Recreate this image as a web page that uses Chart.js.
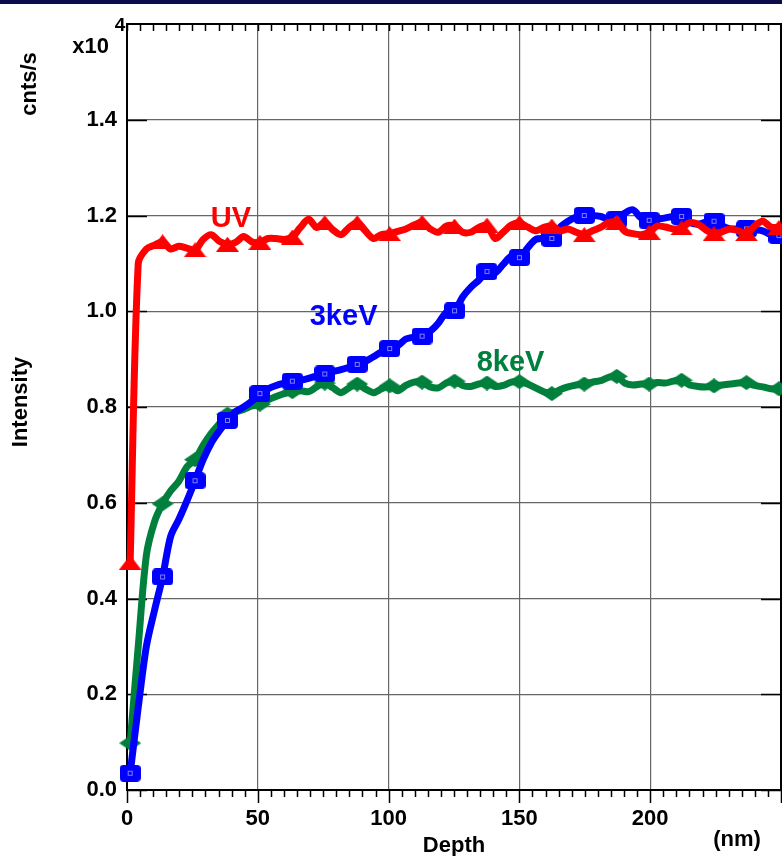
<!DOCTYPE html>
<html>
<head>
<meta charset="utf-8">
<script src="https://cdn.jsdelivr.net/npm/chart.js@4/dist/chart.umd.min.js"></script>
<style>
  html, body { margin: 0; padding: 0; background: #fff; }
  canvas { display: block; }
</style>
</head>
<body>
<canvas id="chart" width="782" height="856"></canvas>
<script>
// depth (nm) of each sample, shared by the three profiles
const depth = [
    1.2, 4.3, 7.4, 10.5, 13.6, 16.7, 19.8, 22.9, 26.0, 29.1,
    32.2, 35.3, 38.4, 41.5, 44.6, 47.7, 50.8, 53.9, 57.0, 60.1,
    63.2, 66.3, 69.4, 72.5, 75.6, 78.7, 81.8, 84.9, 88.0, 91.1,
    94.2, 97.3, 100.4, 103.5, 106.6, 109.7, 112.8, 115.9, 119.0, 122.1,
    125.2, 128.3, 131.4, 134.5, 137.6, 140.7, 143.8, 146.9, 150.0, 153.1,
    156.2, 159.3, 162.4, 165.5, 168.6, 171.7, 174.8, 177.9, 181.0, 184.1,
    187.2, 190.3, 193.4, 196.5, 199.6, 202.7, 205.8, 208.9, 212.0, 215.1,
    218.2, 221.3, 224.4, 227.5, 230.6, 233.7, 236.8, 239.9, 243.0, 246.1,
    249.2
]

// intensity, x10^4 cnts/s
const uv = [
    0.475, 1.10, 1.13, 1.138, 1.145, 1.130, 1.136, 1.132, 1.128, 1.150,
    1.160, 1.146, 1.140, 1.144, 1.156, 1.145, 1.144, 1.152, 1.152, 1.150,
    1.155, 1.175, 1.192, 1.175, 1.185, 1.170, 1.160, 1.175, 1.185, 1.168,
    1.152, 1.160, 1.162, 1.167, 1.172, 1.180, 1.186, 1.172, 1.165, 1.178,
    1.178, 1.165, 1.165, 1.175, 1.180, 1.152, 1.165, 1.180, 1.185, 1.176,
    1.168, 1.175, 1.178, 1.168, 1.172, 1.165, 1.160, 1.168, 1.175, 1.185,
    1.186, 1.167, 1.162, 1.160, 1.165, 1.178, 1.176, 1.172, 1.174, 1.185,
    1.182, 1.170, 1.162, 1.166, 1.172, 1.168, 1.162, 1.178, 1.188, 1.176,
    1.175
]

const kev3 = [
    0.035, 0.173, 0.30, 0.375, 0.445, 0.53, 0.565, 0.604, 0.646, 0.69,
    0.725, 0.75, 0.772, 0.79, 0.80, 0.812, 0.828, 0.838, 0.845, 0.850,
    0.854, 0.856, 0.860, 0.865, 0.869, 0.874, 0.878, 0.883, 0.889, 0.895,
    0.905, 0.915, 0.922, 0.928, 0.942, 0.946, 0.948, 0.958, 0.975, 0.998,
    1.001, 1.030, 1.050, 1.065, 1.083, 1.080, 1.098, 1.115, 1.112, 1.132,
    1.150, 1.152, 1.152, 1.175, 1.188, 1.197, 1.200, 1.200, 1.198, 1.192,
    1.192, 1.205, 1.212, 1.195, 1.190, 1.192, 1.195, 1.198, 1.198, 1.185,
    1.182, 1.186, 1.188, 1.178, 1.172, 1.172, 1.172, 1.170, 1.168, 1.160,
    1.158
]

const kev8 = [
    0.098, 0.30, 0.49, 0.56, 0.598, 0.625, 0.645, 0.675, 0.690, 0.72,
    0.745, 0.765, 0.785, 0.790, 0.795, 0.802, 0.806, 0.815, 0.822, 0.828,
    0.832, 0.834, 0.832, 0.842, 0.850, 0.840, 0.830, 0.840, 0.848, 0.838,
    0.830, 0.838, 0.844, 0.834, 0.845, 0.852, 0.852, 0.842, 0.840, 0.850,
    0.854, 0.845, 0.843, 0.848, 0.850, 0.843, 0.845, 0.852, 0.853, 0.848,
    0.840, 0.832, 0.828, 0.836, 0.842, 0.846, 0.848, 0.852, 0.855, 0.862,
    0.864, 0.850, 0.846, 0.848, 0.848, 0.851, 0.850, 0.854, 0.856, 0.846,
    0.843, 0.842, 0.844, 0.846, 0.848, 0.850, 0.851, 0.845, 0.842, 0.838,
    0.838
]

const xTicks = [0, 50, 100, 150, 200]
const yTicks = [0.0, 0.2, 0.4, 0.6, 0.8, 1.0, 1.2, 1.4]

const FONT = '"Liberation Sans", Arial, sans-serif'
const RED = '#ff0000'
const BLUE = '#0000ff'
const GREEN = '#00803c'

// marker glyphs, slightly wider than tall like the original plot
function glyph(w, h, draw) {
    const c = document.createElement('canvas')
    c.width = w
    c.height = h
    draw(c.getContext('2d'), w, h)
    return c
}

const squareMark = glyph(21, 17, (g, w, h) => {
    g.fillStyle = BLUE
    g.beginPath()
    g.roundRect(0, 0, w, h, 4)
    g.fill()
    g.strokeStyle = '#fff'
    g.lineWidth = 1
    g.setLineDash([1, 1])
    g.strokeRect(8.5, 6.5, 4, 4)
})

const triangleMark = glyph(23, 15, (g, w, h) => {
    g.fillStyle = RED
    g.beginPath()
    g.moveTo(w / 2, 0)
    g.lineTo(w, h)
    g.lineTo(0, h)
    g.closePath()
    g.fill()
})

const diamondMark = glyph(22, 15, (g, w, h) => {
    g.fillStyle = GREEN
    g.beginPath()
    g.moveTo(w / 2, 0)
    g.lineTo(w, h / 2)
    g.lineTo(w / 2, h)
    g.lineTo(0, h / 2)
    g.closePath()
    g.fill()
})

const pts = vals => vals.map((v, i) => ({ x: depth[i], y: v }))
// a marker on every fourth sample
const markerSize = ctx => (ctx.dataIndex % 4 === 0 ? 8 : 0)

function series(label, vals, color, mark, order) {
    return {
        label: label,
        data: pts(vals),
        borderColor: color,
        backgroundColor: color,
        borderWidth: 7,
        tension: 0.3,
        pointStyle: mark,
        pointRadius: markerSize,
        pointBorderWidth: 0,
        borderJoinStyle: 'round',
        borderCapStyle: 'round',
        clip: false,
        order: order
    }
}

const decor = {
    id: 'decor',
    beforeDatasetsDraw(chart) {
        const { ctx, chartArea: a, scales: { x, y } } = chart
        ctx.save()
        ctx.strokeStyle = '#000'
        ctx.lineWidth = 2
        ctx.strokeRect(a.left, a.top, a.right - a.left, a.bottom - a.top)
        ctx.lineWidth = 1.5
        ctx.beginPath()
        for (let v = 0; v <= 250; v += 5) {
            const px = Math.round(x.getPixelForValue(v)) + 0.5
            const major = v % 50 === 0
            ctx.moveTo(px, a.bottom)
            ctx.lineTo(px, a.bottom + (major ? 13 : 7))
            ctx.moveTo(px, a.top)
            ctx.lineTo(px, a.top + 7)
        }
        yTicks.forEach(v => {
            const py = Math.round(y.getPixelForValue(v)) + 0.5
            ctx.moveTo(a.left, py)
            ctx.lineTo(a.left + 20, py)
            ctx.moveTo(a.right, py)
            ctx.lineTo(a.right - 20, py)
        })
        ctx.stroke()
        ctx.restore()
    },
    afterDraw(chart) {
        const { ctx, scales: { x, y } } = chart
        ctx.save()
        ctx.fillStyle = '#0b0b4e'
        ctx.fillRect(0, 0, chart.width, 4)

        ctx.fillStyle = '#000'
        ctx.font = 'bold 22px ' + FONT
        ctx.textAlign = 'center'
        ctx.textBaseline = 'alphabetic'
        ctx.fillText('Depth', 454, 852)
        ctx.fillText('(nm)', 737, 846)
        ctx.textAlign = 'right'
        ctx.fillText('x10', 109, 53)
        ctx.font = 'bold 19px ' + FONT
        ctx.textAlign = 'center'
        ctx.fillText('4', 120, 31)

        ctx.font = 'bold 22px ' + FONT
        ctx.textBaseline = 'middle'
        ctx.save()
        ctx.translate(21, 402)
        ctx.rotate(-Math.PI / 2)
        ctx.fillText('Intensity', 0, 0)
        ctx.restore()
        ctx.save()
        ctx.translate(30, 84)
        ctx.rotate(-Math.PI / 2)
        ctx.fillText('cnts/s', 0, 0)
        ctx.restore()

        // curve names
        ctx.font = 'bold 29px ' + FONT
        ctx.textBaseline = 'alphabetic'
        ctx.fillStyle = RED
        ctx.fillText('UV', x.getPixelForValue(39.7), y.getPixelForValue(1.177))
        ctx.fillStyle = BLUE
        ctx.fillText('3keV', x.getPixelForValue(82.8), y.getPixelForValue(0.971))
        ctx.fillStyle = GREEN
        ctx.fillText('8keV', x.getPixelForValue(146.6), y.getPixelForValue(0.875))
        ctx.restore()
    }
}

new Chart(document.getElementById('chart'), {
    type: 'line',
    data: {
        datasets: [
            series('UV', uv, RED, triangleMark, 1),
            series('3keV', kev3, BLUE, squareMark, 2),
            series('8keV', kev8, GREEN, diamondMark, 3)
        ]
    },
    options: {
        responsive: false,
        animation: false,
        events: [],
        layout: {
            autoPadding: false,
            padding: { top: 24, right: 1, left: 0, bottom: 0 }
        },
        plugins: {
            legend: { display: false },
            tooltip: { enabled: false }
        },
        scales: {
            x: {
                type: 'linear',
                min: 0,
                max: 250,
                afterFit: s => {
                    s.height = 66
                    s.paddingLeft = 0
                    s.paddingRight = 0
                },
                afterBuildTicks: s => { s.ticks = xTicks.map(v => ({ value: v })) },
                border: { display: false },
                grid: { color: '#666', lineWidth: 1.2, drawTicks: false },
                ticks: {
                    color: '#000',
                    padding: 16,
                    maxRotation: 0,
                    font: { family: FONT, size: 22, weight: 'bold' }
                }
            },
            y: {
                min: 0,
                max: 1.6,
                afterFit: s => {
                    s.width = 127
                    s.paddingTop = 0
                    s.paddingBottom = 0
                },
                afterBuildTicks: s => { s.ticks = yTicks.map(v => ({ value: v })) },
                border: { display: false },
                grid: { color: '#666', lineWidth: 1.2, drawTicks: false },
                ticks: {
                    color: '#000',
                    padding: 10,
                    font: { family: FONT, size: 22, weight: 'bold' },
                    callback: v => v.toFixed(1)
                }
            }
        }
    },
    plugins: [decor]
})
</script>
</body>
</html>
